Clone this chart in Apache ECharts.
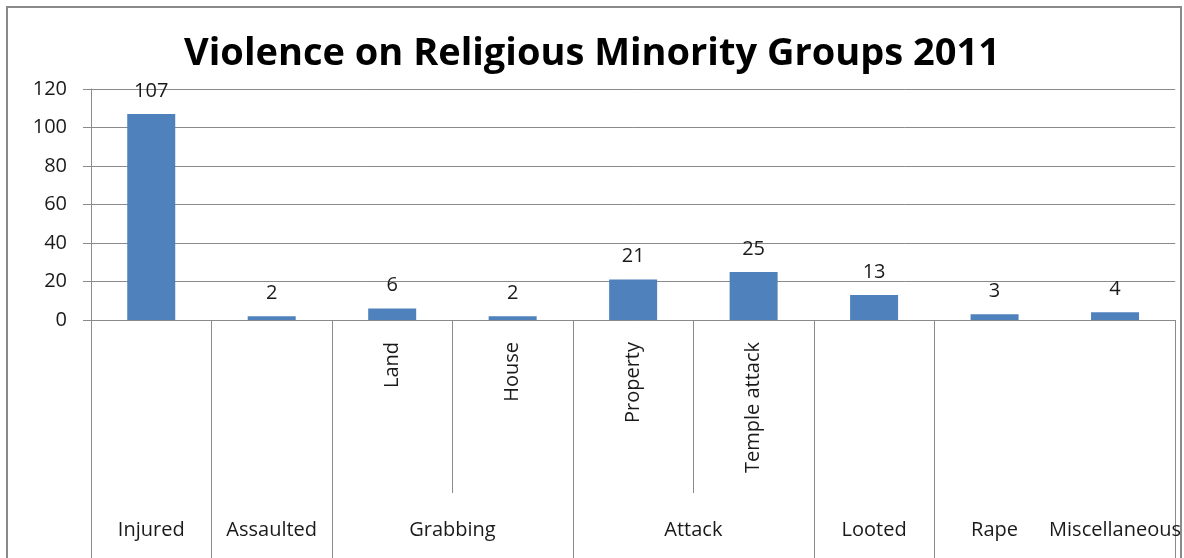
<!DOCTYPE html>
<html>
<head>
<meta charset="utf-8">
<script src="https://cdn.jsdelivr.net/npm/echarts@6/dist/echarts.min.js"></script>
<style>
html,body{margin:0;padding:0;background:#fff;}
#chart{width:1184px;height:558px;}
</style>
</head>
<body>
<div id="chart"></div>
<script>
const titleText = 'Violence on Religious Minority Groups 2011';
const categories = ['Injured','Assaulted','Land','House','Property','Temple attack','Looted','Rape','Miscellaneous'];
const values = [107, 2, 6, 2, 21, 25, 13, 3, 4];
const subLabels = ['', '', 'Land', 'House', 'Property', 'Temple attack', '', '', ''];
const groupLabels = ['Injured','Assaulted','Grabbing','Attack','Looted','Rape','Miscellaneous'];
const groupSpans = [1, 1, 2, 2, 1, 1, 1];
const longSeparators = [0, 1, 2, 4, 6, 7, 9];
const shortSeparators = [3, 5];
const yTicks = { min: 0, max: 120, interval: 20 };

const FONT = '"Open Sans", sans-serif';
const GRAY = '#8a8a8a';
const TEXT = '#1a1a1a';

// half-band slots (boundaryGap false): slot k is at k/2 categories
const nSlots = categories.length * 2 + 1;
const groupSlotLabels = new Array(nSlots).fill('');
let start = 0;
groupLabels.forEach((g, i) => {
  groupSlotLabels[start * 2 + groupSpans[i]] = g;
  start += groupSpans[i];
});
const slotData = groupSlotLabels.map((l, i) => 's' + i);
const longSlots = longSeparators.map(b => b * 2);
const shortSlots = shortSeparators.map(b => b * 2);

const chart = echarts.init(document.getElementById('chart'));
chart.setOption({
  animation: false,
  backgroundColor: '#fff',
  title: {
    text: titleText,
    left: 'center',
    top: 30,
    textStyle: { fontFamily: FONT, fontSize: 38, fontWeight: 'bold', color: '#000' }
  },
  graphic: [{
    type: 'rect',
    shape: { x: 7, y: 7, width: 1174, height: 600 },
    style: { fill: 'none', stroke: GRAY, lineWidth: 2 },
    silent: true
  }],
  grid: { left: 91, right: 7, top: 89, bottom: 238 },
  xAxis: [
    {
      type: 'category',
      data: categories,
      position: 'bottom',
      axisLine: { show: true, lineStyle: { color: GRAY, width: 1 } },
      axisTick: { show: false },
      axisLabel: {
        interval: 0,
        rotate: 90,
        margin: 22,
        fontFamily: FONT,
        fontSize: 20,
        color: TEXT,
        formatter: (v, i) => subLabels[i]
      }
    },
    {
      type: 'category',
      data: slotData,
      boundaryGap: false,
      position: 'bottom',
      axisLine: { show: false },
      axisTick: {
        show: true,
        length: 240,
        interval: (i) => longSlots.includes(i),
        lineStyle: { color: GRAY, width: 1 }
      },
      axisLabel: {
        interval: 0,
        margin: 200,
        fontFamily: FONT,
        fontSize: 20,
        color: TEXT,
        formatter: (v, i) => groupSlotLabels[i]
      }
    },
    {
      type: 'category',
      data: slotData,
      boundaryGap: false,
      position: 'bottom',
      axisLine: { show: false },
      axisTick: {
        show: true,
        length: 173,
        interval: (i) => shortSlots.includes(i),
        lineStyle: { color: GRAY, width: 1 }
      },
      axisLabel: { show: false }
    }
  ],
  yAxis: {
    type: 'value',
    min: yTicks.min,
    max: yTicks.max,
    interval: yTicks.interval,
    axisLine: { show: true, lineStyle: { color: GRAY, width: 1 } },
    axisTick: { show: true, length: 8, lineStyle: { color: GRAY } },
    splitLine: { show: true, lineStyle: { color: GRAY, width: 1 } },
    axisLabel: { margin: 24, fontFamily: FONT, fontSize: 20, color: TEXT }
  },
  series: [{
    type: 'bar',
    xAxisIndex: 0,
    data: values,
    barWidth: 48,
    itemStyle: { color: '#4F81BD' },
    label: {
      show: true,
      position: 'top',
      distance: 13,
      fontFamily: FONT,
      fontSize: 20,
      color: TEXT
    }
  }]
});
</script>
</body>
</html>
